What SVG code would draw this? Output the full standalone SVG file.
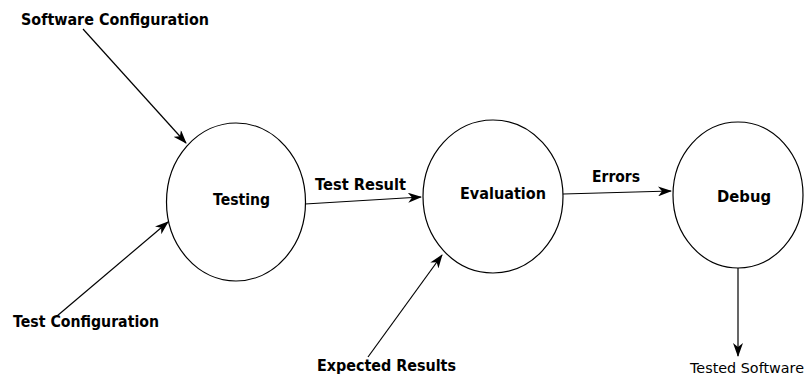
<svg xmlns="http://www.w3.org/2000/svg" width="805" height="376" viewBox="0 0 805 376">
<defs>
<marker id="ah" viewBox="0 0 14 10" refX="13" refY="5" markerWidth="14" markerHeight="10" markerUnits="userSpaceOnUse" orient="auto">
<path d="M0,0 L14,5 L0,10 L4,5 z" fill="#000"/>
</marker>
<style>
.node ellipse{fill:#fff;stroke:#000;stroke-width:1.2}
.lbl{font-family:"DejaVu Sans","Liberation Sans",sans-serif;font-weight:bold;font-size:15px;fill:#000}
.thin{font-family:"DejaVu Sans","Liberation Sans",sans-serif;font-size:14px;fill:#000}
.conn line{stroke:#000;stroke-width:1.2;marker-end:url(#ah)}
</style>
</defs>
<rect width="805" height="376" fill="#fff"/>
<g id="testing" class="node">
<ellipse cx="236" cy="202" rx="69.5" ry="79"/>
<text class="lbl" x="213" y="205" textLength="57" lengthAdjust="spacingAndGlyphs">Testing</text>
</g>
<g id="evaluation" class="node">
<ellipse cx="493" cy="196.5" rx="70" ry="76.5"/>
<text class="lbl" x="460" y="199" textLength="86" lengthAdjust="spacingAndGlyphs">Evaluation</text>
</g>
<g id="debug" class="node">
<ellipse cx="738" cy="195" rx="65" ry="73"/>
<text class="lbl" x="717" y="202" textLength="54" lengthAdjust="spacingAndGlyphs">Debug</text>
</g>
<g id="software-configuration">
<text class="lbl" x="21" y="25" textLength="188" lengthAdjust="spacingAndGlyphs">Software Configuration</text>
</g>
<g id="test-configuration">
<text class="lbl" x="13" y="327" textLength="146" lengthAdjust="spacingAndGlyphs">Test Configuration</text>
</g>
<g id="expected-results">
<text class="lbl" x="317" y="371" textLength="139" lengthAdjust="spacingAndGlyphs">Expected Results</text>
</g>
<g id="tested-software">
<text class="thin" x="690" y="373" textLength="114" lengthAdjust="spacingAndGlyphs">Tested Software</text>
</g>
<g id="connectors" class="conn">
<line x1="83" y1="29" x2="186" y2="143"/>
<line x1="57" y1="316" x2="168" y2="222"/>
<line x1="305" y1="204" x2="421" y2="197"/>
<text class="lbl" x="315" y="190" textLength="91" lengthAdjust="spacingAndGlyphs">Test Result</text>
<line x1="368" y1="357" x2="442" y2="255"/>
<line x1="563" y1="194" x2="671" y2="191"/>
<text class="lbl" x="592" y="182" textLength="48" lengthAdjust="spacingAndGlyphs">Errors</text>
<line x1="738" y1="268" x2="738" y2="356"/>
</g>
</svg>
